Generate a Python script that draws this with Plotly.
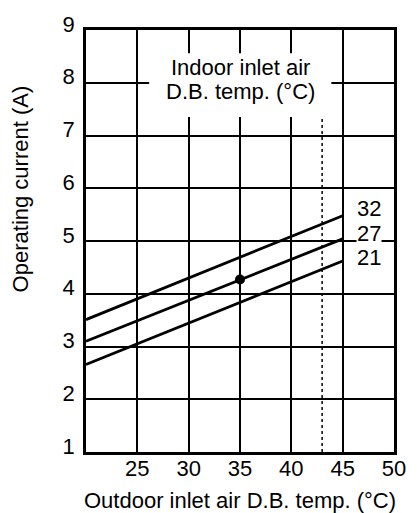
import plotly.graph_objects as go

# ---- data ----
outdoor_temp = [20, 45]
series_names = ["32", "27", "21"]
current_32 = [3.51, 5.48]
current_27 = [3.10, 5.04]
current_21 = [2.66, 4.62]
label_y = [5.61, 5.14, 4.69]
label_x = 47.6
rated_point_x = [35]
rated_point_y = [4.27]
limit_temp = 43
limit_top = 7.35
x_ticks = [25, 30, 35, 40, 45, 50]
y_ticks = [1, 2, 3, 4, 5, 6, 7, 8, 9]

FONT = "Liberation Sans, Arial, sans-serif"
FS = 22

fig = go.Figure()

# dashed limit line
fig.add_trace(go.Scatter(x=[limit_temp, limit_temp], y=[1, limit_top], mode="lines",
                         line=dict(color="black", width=1.5, dash="3px,3px"),
                         hoverinfo="skip", showlegend=False))

for vals in (current_32, current_27, current_21):
    fig.add_trace(go.Scatter(x=outdoor_temp, y=vals, mode="lines",
                             line=dict(color="black", width=2.8),
                             showlegend=False))

fig.add_trace(go.Scatter(x=rated_point_x, y=rated_point_y, mode="markers",
                         marker=dict(color="black", size=10), showlegend=False))

# white box behind the label (interrupts grid)
fig.add_shape(type="rect", xref="x", yref="y", x0=26.15, x1=43.9, y0=7.35, y1=8.56,
              fillcolor="white", line=dict(width=0), layer="between")

for name, y in zip(series_names, label_y):
    fig.add_annotation(x=label_x, y=y, text=name, showarrow=False, bgcolor="white",
                       borderpad=0, xanchor="center", yanchor="middle",
                       font=dict(family=FONT, size=FS, color="black"))

fig.add_annotation(x=35, y=8.29, text="Indoor inlet air", showarrow=False,
                   xanchor="center", yanchor="middle",
                   font=dict(family=FONT, size=FS, color="black"))
fig.add_annotation(x=35, y=7.83, text="D.B. temp. (°C)", showarrow=False,
                   xanchor="center", yanchor="middle",
                   font=dict(family=FONT, size=FS, color="black"))

fig.add_annotation(xref="paper", yref="paper", x=-0.212, y=0.624, textangle=-90,
                   xanchor="center", yanchor="middle",
                   text="Operating current (A)", showarrow=False,
                   font=dict(family=FONT, size=FS, color="black"))
fig.add_annotation(xref="paper", yref="paper", x=0.5, y=-0.116, yanchor="middle",
                   xanchor="center",
                   text="Outdoor inlet air D.B. temp. (°C)", showarrow=False,
                   font=dict(family=FONT, size=FS, color="black"))

axis_common = dict(showline=True, linecolor="black", linewidth=2.5, mirror=True,
                   showgrid=True, gridcolor="black", gridwidth=1.5, zeroline=False,
                   ticks="", tickfont=dict(family=FONT, size=FS, color="black"))

fig.update_xaxes(range=[20, 50], tickvals=x_ticks, ticklabelstandoff=-5, **axis_common)
fig.update_yaxes(range=[1, 9], tickvals=y_ticks, ticklabelstandoff=4, ticklabelshift=-6,
                 **axis_common)

fig.update_layout(width=418, height=513, margin=dict(l=86, r=16, t=29, b=61),
                  plot_bgcolor="white", paper_bgcolor="white",
                  font=dict(family=FONT, size=FS, color="black"))

fig.write_html("out.html", config={"displayModeBar": False},
               post_script="document.body.style.margin='0';document.body.style.overflow='hidden';")
